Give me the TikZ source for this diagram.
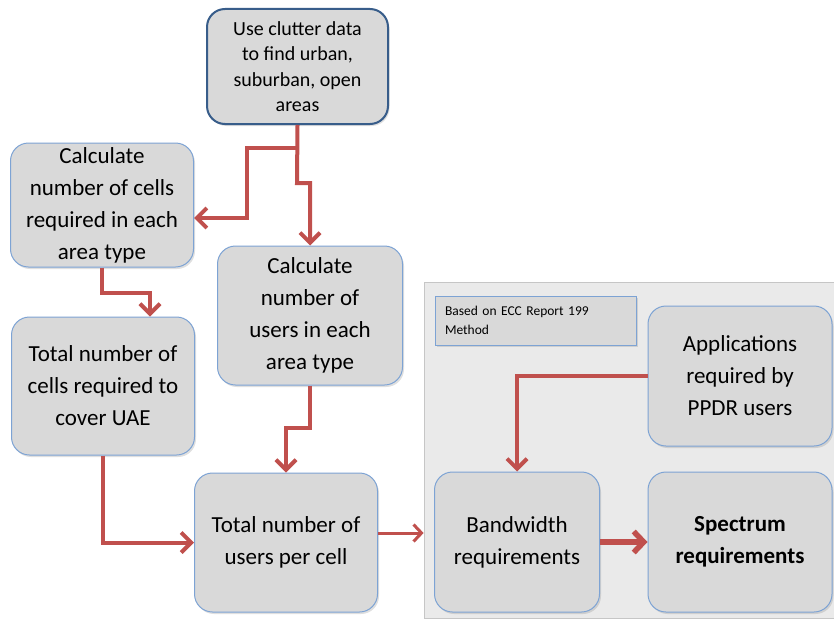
\documentclass[tikz,border=0pt]{standalone}
\usepackage{fontspec}
\setmainfont{Carlito}
\usetikzlibrary{arrows.meta,shadows}
\definecolor{boxfill}{RGB}{217,217,217}
\definecolor{boxline}{RGB}{125,163,212}
\definecolor{topline}{RGB}{56,93,138}
\definecolor{arrowred}{RGB}{192,80,77}
\definecolor{panelfill}{RGB}{234,234,234}
\begin{document}
\begin{tikzpicture}[x=1pt,y=-1pt,
  box/.style={draw=boxline, line width=1pt, fill=boxfill, rounded corners=18pt,
    align=center, inner sep=0pt, font=\fontsize{23}{32}\selectfont,
    drop shadow={opacity=0.25, shadow xshift=1.5pt, shadow yshift=-2pt}},
  labelbox/.style={draw=boxline, line width=1pt, fill=boxfill, align=left,
    inner sep=0pt, text width=181pt, font=\fontsize{13.5}{19}\selectfont,
    drop shadow={opacity=0.25, shadow xshift=1.5pt, shadow yshift=-2pt}},
  panel/.style={draw=gray!45, line width=0.8pt, fill=panelfill, inner sep=0pt},
  arr/.style={draw=arrowred, line width=4pt, -{Straight Barb[length=10pt,width=20pt]}},
  arrthin/.style={draw=arrowred, line width=3pt, -{Straight Barb[length=8pt,width=17pt]}},
  arrthick/.style={draw=arrowred, line width=5.5pt, -{Straight Barb[length=10pt,width=21pt]}}
]
\useasboundingbox (0,0) rectangle (834,618);
\fill[white] (0,0) rectangle (834,618);

\node[panel, minimum width=410pt, minimum height=336pt] (panel) at (629,450) {};

\node[box, minimum width=181pt, minimum height=115pt, draw=topline, line width=2pt,
  font=\fontsize{20}{25.3}\selectfont] (top) at (297.5,66.5)
  {Use clutter data\\to find urban,\\suburban, open\\areas};
\node[box, minimum width=183pt, minimum height=124pt] (A) at (102,205)
  {Calculate\\number of cells\\required in each\\area type};
\node[box, minimum width=183pt, minimum height=138pt] (B) at (103,386)
  {Total number of\\cells required to\\cover UAE};
\node[box, minimum width=185pt, minimum height=139pt] (C) at (310,315.5)
  {Calculate\\number of\\users in each\\area type};
\node[box, minimum width=183pt, minimum height=139pt] (D) at (286,542.5)
  {Total number of\\users per cell};
\node[box, minimum width=165pt, minimum height=140pt] (BW) at (517,542)
  {Bandwidth\\requirements};
\node[box, minimum width=184pt, minimum height=140pt] (SP) at (740,542)
  {\textbf{Spectrum}\\\textbf{requirements}};
\node[box, minimum width=184pt, minimum height=140pt] (AP) at (740,376)
  {Applications\\required by\\PPDR users};
\node[labelbox, minimum width=201pt, minimum height=49pt] (lab) at (535.5,320.5)
  {Based on ECC Report 199\\Method};

% connectors
\coordinate (split) at (297,148);
\coordinate (a1) at (247,218);
\draw[arr] (top.south) -- (297,183) -| (C.north);
\draw[arr] (split) -| (a1) -- (a1 -| A.east);
\coordinate (b1) at (150,293);
\draw[arr] (A.south) |- (b1) -- (b1 |- B.north);
\draw[arr] (B.south) |- (D.west);
\coordinate (c1) at (286,428);
\draw[arr] (C.south) |- (c1) -- (D.north);
\coordinate (d1) at (378,533);
\draw[arrthin] (d1 -| D.east) -- (d1 -| panel.west);
\draw[arrthick] (BW.east) -- (SP.west);
\draw[arr] (AP.west) -| (BW.north);
\end{tikzpicture}
\end{document}
